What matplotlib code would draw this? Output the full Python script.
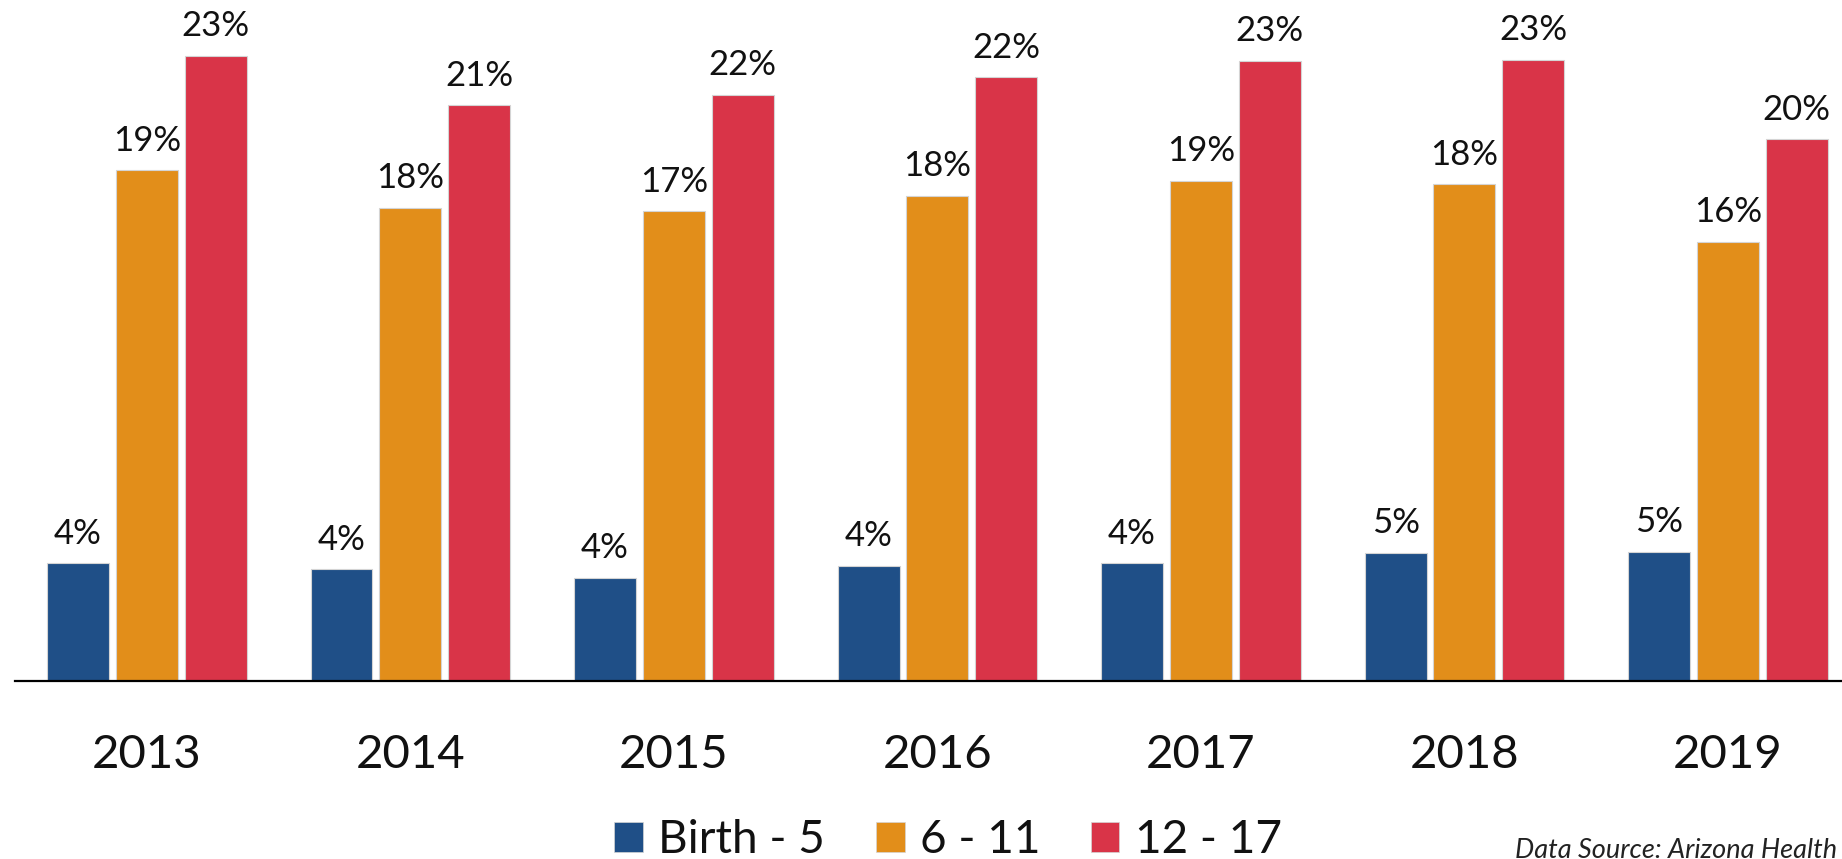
import matplotlib
matplotlib.use("Agg")
import matplotlib.pyplot as plt
from matplotlib.patches import Patch
import numpy as np

plt.rcParams['font.family'] = ['Lato', 'DejaVu Sans']

years = ['2013', '2014', '2015', '2016', '2017', '2018', '2019']
series_names = ['Birth - 5', '6 - 11', '12 - 17']
birth_5 = [4.36, 4.14, 3.83, 4.27, 4.36, 4.75, 4.79]
age_6_11 = [18.95, 17.56, 17.43, 18.0, 18.55, 18.43, 16.3]
age_12_17 = [23.2, 21.35, 21.74, 22.4, 23.0, 23.05, 20.1]
colors = ['#1F4F87', '#E28E1A', '#D93448']
source_text = 'Data Source: Arizona Health'

W, H = 1842, 859
fig = plt.figure(figsize=(W / 100, H / 100), dpi=100)
ax = fig.add_axes([15 / W, 1 - 681 / H, 1 - 15 / W, 681 / H])

x = np.arange(len(years))
width = 0.235
step = 0.261
for i, (vals, c) in enumerate(zip([birth_5, age_6_11, age_12_17], colors)):
    pos = x + (i - 1) * step
    ax.bar(pos, vals, width=width, color=c, edgecolor='#d4d4d4', linewidth=0.8, zorder=2)
    for xp, v in zip(pos, vals):
        ax.annotate(f'{int(v + 0.5):d}%', (xp, v), xytext=(0, 14), textcoords='offset points',
                    ha='center', va='baseline', fontsize=25, color='#111111')

ax.set_xlim(-0.5, 6.433)
ax.set_ylim(0, 25.26)
for s in ['top', 'right', 'left']:
    ax.spines[s].set_visible(False)
ax.spines['bottom'].set_linewidth(1.6)
ax.spines['bottom'].set_color('black')
ax.spines['bottom'].set_zorder(3)
ax.set_yticks([])
ax.set_xticks(x)
ax.set_xticklabels(years, fontsize=34, color='#111111')
ax.tick_params(axis='x', length=0, pad=38)

handles = [Patch(facecolor=c, edgecolor='#d4d4d4', linewidth=0.5) for c in colors]
fig.legend(handles, series_names, loc='center', bbox_to_anchor=(948 / W, 1 - 840 / H),
           ncol=3, frameon=False, fontsize=33, handlelength=0.63, handleheight=0.63,
           handletextpad=0.33, columnspacing=1.1, borderpad=0, labelcolor='#111111')

fig.text(1515 / W, 1 - 850 / H, source_text, fontsize=19.5, style='italic',
         color='#222222', ha='left', va='center')

fig.savefig('out.png', dpi=100)
